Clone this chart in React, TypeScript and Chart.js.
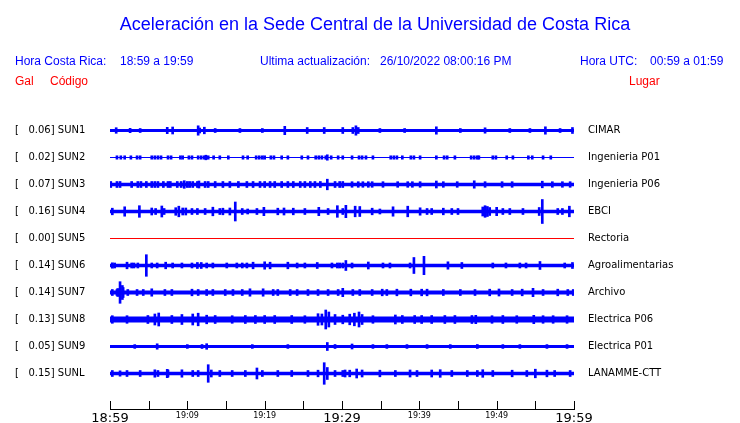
import React, { useEffect, useRef } from "react";
import { Chart, registerables } from "chart.js";

Chart.register(...registerables);

// ---------- data ----------
const TITLE = "Aceleración en la Sede Central de la Universidad de Costa Rica";
const CODES = ["SUN1", "SUN2", "SUN3", "SUN4", "SUN5", "SUN6", "SUN7", "SUN8", "SUN9", "SUNL"];
const PEAKS_GAL = [0.06, 0.02, 0.07, 0.16, 0.0, 0.14, 0.14, 0.13, 0.05, 0.15];
const PLACES = [
  "CIMAR",
  "Ingenieria P01",
  "Ingenieria P06",
  "EBCI",
  "Rectoria",
  "Agroalimentarias",
  "Archivo",
  "Electrica P06",
  "Electrica P01",
  "LANAMME-CTT",
];
// background noise level of each trace (relative amplitude units)
const NOISE = [1.5, 0.5, 1.8, 1.8, 0.5, 1.7, 2.0, 3.0, 1.5, 1.7];

// bursts: [minutes after 18:59, half amplitude]
const SUN1_BURSTS = [
  [0.8, 2.8], [2.6, 2.2], [3.9, 2], [7.4, 3.2], [8.1, 3.5], [11.4, 4.7], [11.6, 2.5], [12.2, 3.3],
  [13.6, 2], [16.8, 2], [19.7, 2], [22.6, 4.2], [25.5, 3], [27.7, 3], [30.1, 3], [31.4, 3],
  [31.8, 4.7], [32.1, 3], [34.9, 2], [38.1, 2], [42.2, 3.7], [45.3, 2], [48.5, 2.7], [51.7, 2],
  [54.3, 2], [56.3, 3.7], [58.2, 2], [59.8, 3],
];
const SUN2_BURSTS = [
  [0.9, 1.7], [1.4, 1.7], [1.9, 1.7], [2.7, 1.7], [3.5, 1.7], [3.9, 1.7], [5.4, 1.7], [5.8, 1.7],
  [6.2, 1.7], [6.6, 1.7], [7.5, 1.7], [7.9, 1.7], [9.1, 1.7], [9.4, 1.7], [10.2, 1.7], [10.6, 1.7],
  [11.4, 1.7], [11.8, 1.7], [12.2, 1.7], [12.4, 2.3], [12.7, 1.7], [13.4, 1.7], [14.2, 1.7],
  [15.3, 1.7], [17.2, 1.7], [17.8, 1.7], [18.9, 1.7], [19.3, 1.7], [19.7, 1.7], [20.0, 1.7],
  [20.8, 1.7], [21.2, 1.7], [22.2, 1.7], [23.0, 1.7], [24.8, 1.7], [25.6, 1.7], [26.6, 1.7],
  [27.0, 1.7], [27.4, 1.7], [27.9, 1.7], [28.1, 2.7], [28.6, 1.7], [29.5, 1.7], [30.1, 1.7],
  [31.3, 1.7], [32.2, 1.7], [32.6, 1.7], [33.1, 1.7], [34.0, 1.7], [36.3, 1.7], [36.7, 1.7],
  [37.1, 1.7], [37.8, 1.7], [38.9, 1.7], [39.3, 1.7], [40.1, 1.7], [42.2, 1.7], [43.2, 1.7],
  [43.6, 1.7], [44.6, 1.7], [46.7, 1.7], [47.1, 1.7], [47.5, 1.7], [47.7, 1.7], [49.5, 1.7],
  [49.9, 1.7], [51.3, 1.7], [52.1, 1.7], [54.1, 1.7], [54.6, 1.7], [56.0, 1.7], [57.0, 1.7],
];
const SUN3_BURSTS = [
  [0.1, 3], [0.9, 3], [1.3, 3], [2.8, 3], [3.6, 3], [4.0, 3], [4.7, 3], [5.4, 3], [5.8, 3],
  [6.2, 3], [6.9, 3], [7.5, 3], [7.8, 3], [8.7, 3], [9.2, 3], [9.6, 3.8], [10.0, 3], [10.3, 3],
  [10.7, 3], [11.3, 3], [11.5, 3.5], [12.3, 3], [12.7, 3], [13.6, 3], [14.6, 3], [15.5, 3],
  [16.6, 3], [17.7, 3], [18.5, 3], [19.4, 3], [20.0, 3], [20.7, 3], [21.3, 3], [22.2, 3],
  [23.0, 3], [23.7, 3], [24.6, 3], [25.2, 3], [25.9, 3], [26.5, 3], [27.2, 3], [28.1, 5.3],
  [29.1, 3], [29.7, 3], [30.1, 3], [31.3, 2.8], [32.1, 2.8], [32.7, 2.8], [33.4, 2.8],
  [33.9, 2.8], [35.3, 2.8], [37.2, 2.8], [38.5, 2.8], [39.1, 2.8], [40.1, 2.8], [42.2, 3.5],
  [43.1, 2.8], [44.9, 2.8], [47.1, 3.7], [48.5, 2.8], [50.7, 2.8], [52.0, 2.8], [55.9, 3.3],
  [57.2, 2.8], [58.5, 2.8], [59.5, 2.8],
];
const SUN4_BURSTS = [
  [0.3, 3.3], [1.9, 4.7], [3.8, 5.8], [5.4, 3.5], [5.9, 3], [6.7, 5.5], [7.0, 3], [8.5, 3.8],
  [8.9, 5.3], [9.4, 3.5], [9.8, 3.5], [10.6, 3], [11.3, 3], [12.3, 3], [13.3, 4.3], [14.2, 3],
  [14.6, 3.3], [15.5, 3.5], [16.2, 9.5], [17.1, 3], [17.8, 2.5], [19.0, 3], [19.9, 4.2],
  [21.7, 3.3], [22.5, 3.5], [23.7, 3.3], [25.2, 3], [27.0, 4.2], [28.2, 3], [29.4, 5.8],
  [30.1, 3], [30.5, 6.2], [31.7, 5.3], [32.3, 5], [33.9, 3.3], [34.9, 2.5], [36.6, 4.7],
  [38.5, 5.3], [40.1, 3.7], [41.0, 3], [41.6, 3], [43.1, 3.3], [44.2, 3], [45.0, 3],
  [48.2, 4.5], [48.5, 5.8], [48.8, 5], [49.1, 4], [50.0, 4.2], [50.8, 3], [51.7, 3], [53.4, 3],
  [55.5, 4], [55.9, 12], [57.9, 3], [58.5, 3], [59.4, 5.3],
];
const SUN5_BURSTS: number[][] = [];
const SUN6_BURSTS = [
  [0.3, 2.7], [0.6, 2.5], [2.2, 3.3], [2.8, 2.5], [3.1, 2.5], [3.6, 2.5], [4.7, 10.8], [5.4, 2.5],
  [6.1, 2.5], [7.2, 3.3], [8.1, 2.5], [9.3, 2.5], [10.6, 2.5], [11.3, 3], [11.8, 3], [12.5, 2.5],
  [13.3, 2.5], [15.1, 2.5], [16.4, 2.5], [17.1, 2.5], [17.7, 2.5], [18.5, 3.3], [20.0, 3.7],
  [20.7, 3.3], [23.0, 3.3], [24.2, 2.5], [25.2, 2.5], [26.8, 3], [28.7, 2.5], [29.4, 2.5],
  [29.7, 2.5], [30.1, 2.5], [30.5, 5], [31.3, 2.5], [33.4, 3.5], [35.3, 2.5], [36.2, 2.5],
  [38.8, 2.5], [39.3, 8], [40.6, 9.2], [43.7, 3.7], [45.5, 3], [49.5, 2.5], [51.2, 2.5],
  [53.0, 2.5], [53.8, 2.5], [55.6, 4], [58.8, 2.5], [59.8, 3],
];
const SUN7_BURSTS = [
  [0.3, 3], [0.9, 3], [1.0, 4], [1.3, 10.8], [1.6, 7], [1.7, 5], [2.3, 3], [3.5, 3], [4.3, 3],
  [5.4, 3.7], [7.1, 3], [8.0, 3], [10.6, 3.3], [11.4, 3], [12.5, 3], [13.3, 3], [14.9, 3],
  [15.9, 3], [17.1, 3], [18.1, 3.7], [19.8, 3.7], [21.1, 3], [21.7, 3], [23.3, 3], [24.2, 3],
  [25.6, 3], [26.9, 3], [28.2, 3], [29.5, 3], [30.1, 4.2], [31.4, 3], [32.3, 3], [33.9, 3],
  [35.2, 3.3], [35.8, 3], [37.1, 3.3], [38.9, 3.3], [40.3, 3.3], [41.0, 3.3], [43.1, 3],
  [45.3, 3], [47.2, 3], [49.1, 3.3], [50.3, 3.5], [52.0, 3], [53.3, 3.3], [54.7, 4.2], [56.0, 3],
  [57.9, 3.3], [59.2, 3], [59.9, 3],
];
const SUN8_BURSTS = [
  [0.3, 3.8], [2.2, 3.8], [4.9, 4], [5.8, 5.5], [6.3, 6.5], [8.0, 4], [9.3, 5], [10.7, 5.5],
  [11.4, 6.3], [12.5, 4.3], [13.6, 4], [15.8, 3.8], [17.5, 4], [18.8, 4], [20.0, 4], [21.3, 4],
  [23.5, 4], [25.2, 3.8], [26.9, 5.8], [27.4, 5.5], [27.9, 9.5], [28.3, 7.5], [29.1, 5],
  [30.1, 4.3], [31.0, 5.3], [31.6, 6.3], [32.2, 7.5], [32.6, 5], [34.0, 3.8], [36.9, 4.5],
  [37.8, 4], [39.4, 4], [40.3, 4], [41.6, 4], [43.3, 4], [44.6, 4], [46.8, 4], [47.3, 4.2],
  [49.4, 3.8], [50.8, 4], [52.6, 3.8], [54.8, 4.2], [56.0, 3.8], [57.3, 3.8], [59.1, 3.8],
];
const SUN9_BURSTS = [
  [3.2, 1.9], [6.1, 2.7], [10.0, 1.9], [11.9, 2], [12.5, 2.8], [18.4, 1.9], [23.0, 1.9],
  [28.1, 4], [29.1, 2], [31.3, 2.5], [34.0, 1.9], [35.8, 1.9], [38.4, 1.9], [41.0, 1.9],
  [44.0, 1.9], [47.5, 2], [50.8, 1.9], [53.0, 1.9], [56.5, 1.9], [59.1, 1.9],
];
const SUNL_BURSTS = [
  [0.3, 3], [1.3, 2.7], [2.2, 3], [3.9, 3], [5.8, 3.7], [6.2, 3], [7.4, 4.2], [7.5, 3.5],
  [9.3, 3.7], [10.7, 3], [11.4, 3], [12.7, 8.8], [13.1, 3.5], [14.2, 3], [15.8, 3], [17.5, 3],
  [19.0, 5.5], [19.7, 3], [21.7, 3], [23.5, 3], [25.6, 3], [26.9, 3.3], [27.7, 10.8], [28.1, 6],
  [29.1, 3], [30.1, 3], [30.4, 3.5], [31.0, 3.3], [31.9, 4.5], [32.6, 3.5], [34.9, 3.3],
  [36.9, 3], [38.8, 3.5], [39.7, 3], [41.6, 3.5], [42.7, 3.8], [44.2, 3], [46.2, 3], [47.5, 3],
  [48.2, 3.8], [49.5, 3], [52.0, 3.3], [53.9, 3], [55.0, 4.3], [56.5, 3.3], [57.5, 3], [59.5, 3],
];
const BURSTS = [
  SUN1_BURSTS, SUN2_BURSTS, SUN3_BURSTS, SUN4_BURSTS, SUN5_BURSTS,
  SUN6_BURSTS, SUN7_BURSTS, SUN8_BURSTS, SUN9_BURSTS, SUNL_BURSTS,
];

const START_HOUR = 18;
const START_MIN = 59;
const SPAN_MIN = 60;
const TICK_MINUTES = [0, 5, 10, 15, 20, 25, 30, 35, 40, 45, 50, 55, 60];
const LABELLED_EVERY = 10;
const BIG_EVERY = 30;

const HORA_CR = "18:59 a 19:59";
const HORA_UTC = "00:59 a 01:59";
const ACTUALIZACION = "26/10/2022 08:00:16 PM";

// ---------- layout / style ----------
const W = 740;
const H = 423;
const SPACING = 27;
const BLUE = "#0000ff";
const RED = "#ff0000";
const N = CODES.length;
const centerOf = (i: number) => (N - i) * SPACING;
// half-unit shift keeps trace centres in the middle of a pixel row
const Y_MIN = SPACING - 36 + 0.5;
const Y_MAX = N * SPACING + SPACING + 0.5;
const AREA = { left: 110, right: 574, top: 103, bottom: 409 };

const timeLabel = (m: number) => {
  const tot = START_HOUR * 60 + START_MIN + m;
  const h = Math.floor(tot / 60) % 24;
  const mm = tot % 60;
  return `${h}:${String(mm).padStart(2, "0")}`;
};

const headerPlugin = {
  id: "header",
  afterDraw(chart: any) {
    const ctx = chart.ctx as CanvasRenderingContext2D;
    ctx.save();
    ctx.textBaseline = "alphabetic";
    ctx.fillStyle = BLUE;
    ctx.font = '18px "Liberation Sans", Arial, sans-serif';
    ctx.textAlign = "center";
    ctx.fillText(TITLE, 375, 30);
    ctx.textAlign = "left";
    ctx.font = '12px "Liberation Sans", Arial, sans-serif';
    ctx.fillText("Hora Costa Rica:", 15, 65);
    ctx.fillText(HORA_CR, 120, 65);
    ctx.fillText("Ultima actualización:", 260, 65);
    ctx.fillText(ACTUALIZACION, 380, 65);
    ctx.fillText("Hora UTC:", 580, 65);
    ctx.fillText(HORA_UTC, 650, 65);
    ctx.fillStyle = RED;
    ctx.fillText("Gal", 15, 85);
    ctx.fillText("Código", 50, 85);
    ctx.fillText("Lugar", 629, 85);
    // axis tick marks (pointing up from the time axis)
    const xs = chart.scales.x;
    const bottom = Math.round(chart.chartArea.bottom);
    ctx.strokeStyle = "#000";
    ctx.lineWidth = 1;
    ctx.beginPath();
    TICK_MINUTES.forEach((m) => {
      const px = Math.round(xs.getPixelForValue(m)) + 0.5;
      ctx.moveTo(px, bottom - 8);
      ctx.lineTo(px, bottom);
    });
    ctx.stroke();
    ctx.restore();
  },
};

export default function App() {
  const ref = useRef<HTMLCanvasElement | null>(null);

  useEffect(() => {
    if (!ref.current) return;
    const datasets: any[] = [];
    CODES.forEach((code, i) => {
      const c = centerOf(i);
      const color = PEAKS_GAL[i] === 0 ? RED : BLUE;
      const n = NOISE[i];
      datasets.push({
        type: "line",
        label: code + " noise",
        data: [
          { x: 0, y: c + n },
          { x: SPAN_MIN, y: c + n },
        ],
        borderWidth: 0,
        borderColor: color,
        backgroundColor: color,
        pointRadius: 0,
        fill: { value: c - n },
        xAxisID: "x",
        yAxisID: "y",
      });
      if (BURSTS[i].length) {
        datasets.push({
          type: "bar",
          label: code,
          data: BURSTS[i].map(([t, a]) => ({ x: t, y: [c - a, c + a] })),
          backgroundColor: color,
          borderWidth: 0,
          barThickness: 2,
          grouped: false,
          xAxisID: "x",
          yAxisID: "y",
        });
      }
    });

    const yTicks = (s: any) => {
      s.ticks = CODES.map((_, i) => ({ value: centerOf(i) })).reverse();
    };
    const idxOf = (v: number) => N - Math.round(v / SPACING);

    // pin the plot area to fixed pixel bounds
    const pinArea = {
      id: "pinArea",
      afterLayout(chart: any) {
        const ca = chart.chartArea;
        ca.left = AREA.left;
        ca.right = AREA.right;
        ca.top = AREA.top;
        ca.bottom = AREA.bottom;
        ca.width = AREA.right - AREA.left;
        ca.height = AREA.bottom - AREA.top;
        const sx = chart.scales.x;
        sx.left = AREA.left; sx.right = AREA.right; sx.width = AREA.right - AREA.left;
        sx.top = AREA.bottom; sx.bottom = H; sx.height = H - AREA.bottom;
        sx.configure();
        ["y", "y2"].forEach((id) => {
          const s = chart.scales[id];
          s.top = AREA.top; s.bottom = AREA.bottom; s.height = AREA.bottom - AREA.top;
          if (id === "y") { s.left = 15; s.right = AREA.left; }
          else { s.left = AREA.right; s.right = W; }
          s.width = s.right - s.left;
          s.configure();
        });
      },
    };

    const chart = new Chart(ref.current, {
      type: "bar",
      data: { datasets },
      plugins: [pinArea, headerPlugin],
      options: {
        responsive: false,
        animation: false,
        devicePixelRatio: 1,
        events: [],
        layout: { padding: { top: 103, left: 15, right: 0, bottom: 0 } },
        plugins: { legend: { display: false }, tooltip: { enabled: false }, title: { display: false } },
        scales: {
          x: {
            type: "linear",
            min: 0,
            max: SPAN_MIN,
            offset: false,
            afterBuildTicks: (s: any) => {
              s.ticks = TICK_MINUTES.map((v) => ({ value: v }));
            },
            afterFit: (s: any) => {
              s.height = 14;
            },
            grid: { display: false, drawTicks: false, offset: false },
            border: { display: true, color: "#000", width: 1 },
            ticks: {
              autoSkip: false,
              maxRotation: 0,
              padding: 2,
              color: "#000",
              font: (ctx: any) => ({
                family: '"DejaVu Sans", sans-serif',
                size: ctx.tick && ctx.tick.value % BIG_EVERY === 0 ? 13 : 8,
              }),
              callback: (v: any) => (Number(v) % LABELLED_EVERY === 0 ? timeLabel(Number(v)) : ""),
            },
          },
          y: {
            type: "linear",
            position: "left",
            min: Y_MIN,
            max: Y_MAX,
            afterBuildTicks: yTicks,
            afterFit: (s: any) => {
              s.width = 95;
            },
            grid: { display: false, drawTicks: false },
            border: { display: false },
            ticks: {
              autoSkip: false,
              crossAlign: "far",
              padding: 0,
              color: "#000",
              font: { family: '"DejaVu Sans", sans-serif', size: 10 },
              callback: (v: any) => {
                const i = idxOf(Number(v));
                return `[   ${PEAKS_GAL[i].toFixed(2)}] ${CODES[i]}`;
              },
            },
          },
          y2: {
            type: "linear",
            position: "right",
            min: Y_MIN,
            max: Y_MAX,
            afterBuildTicks: yTicks,
            afterFit: (s: any) => {
              s.width = W - 574;
            },
            grid: { display: false, drawTicks: false },
            border: { display: false },
            ticks: {
              autoSkip: false,
              crossAlign: "near",
              padding: 14,
              color: "#000",
              font: { family: '"DejaVu Sans", sans-serif', size: 10 },
              callback: (v: any) => PLACES[idxOf(Number(v))],
            },
          },
        },
      } as any,
    });
    return () => chart.destroy();
  }, []);

  return (
    <div style={{ position: "absolute", left: 0, top: 0, width: W, height: H, background: "#fff" }}>
      <canvas ref={ref} width={W} height={H} style={{ display: "block" }} />
    </div>
  );
}
